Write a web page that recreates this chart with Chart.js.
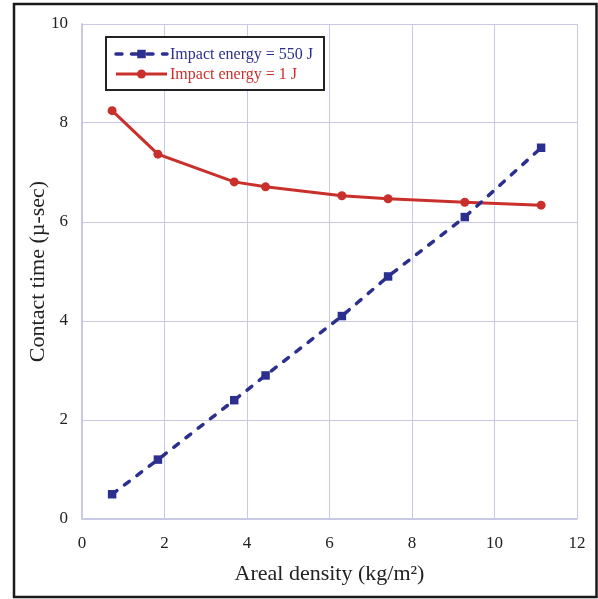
<!DOCTYPE html>
<html>
<head>
<meta charset="utf-8">
<script src="https://cdn.jsdelivr.net/npm/chart.js@4/dist/chart.umd.min.js"></script>
<style>
  body { margin: 0; background: #fff; }
  canvas { display: block; }
</style>
</head>
<body>
<canvas id="contactChart" width="598" height="599"></canvas>
<script>
// ================= DATA =================
const arealDensity = [0.73, 1.84, 3.69, 4.45, 6.30, 7.42, 9.28, 11.13];
const time550J = [0.50, 1.20, 2.40, 2.90, 4.10, 4.90, 6.10, 7.50];
const time1J = [8.25, 7.37, 6.81, 6.71, 6.53, 6.47, 6.40, 6.34];
const seriesLabels = ["Impact energy = 550 J", "Impact energy = 1 J"];
const xTitle = "Areal density (kg/m\u00B2)";
const yTitle = "Contact time (\u00B5-sec)";

const BLUE = "#2b2f8e";
const RED = "#c9302c";
const GRID = "#c9c9e6";
const SERIF = "'Liberation Serif', 'Times New Roman', serif";

const toPoints = ys => arealDensity.map((x, i) => ({ x: x, y: ys[i] }));

// ================= OUTER FRAME =================
const framePlugin = {
    id: "frame",
    afterDraw(chart) {
        const ctx = chart.ctx;
        ctx.save();
        ctx.strokeStyle = "#1a1a1a";
        ctx.lineWidth = 2.5;
        ctx.strokeRect(14, 4, 582.5, 593);
        ctx.restore();
    }
};

// ================= BOXED LEGEND =================
const boxLegend = {
    id: "boxLegend",
    afterDraw(chart) {
        const ctx = chart.ctx;
        const x0 = 106, y0 = 37, w = 218, h = 53;
        ctx.save();
        ctx.fillStyle = "#fff";
        ctx.fillRect(x0, y0, w, h);
        ctx.strokeStyle = "#222";
        ctx.lineWidth = 2;
        ctx.strokeRect(x0, y0, w, h);

        chart.data.datasets.forEach((ds, i) => {
            const y = y0 + 17 + i * 20;
            const xs = x0 + 10, xe = x0 + 61;
            const xm = (xs + xe) / 2;

            // sample line
            ctx.beginPath();
            ctx.strokeStyle = ds.borderColor;
            ctx.lineWidth = ds.borderWidth;
            ctx.lineCap = ds.borderCapStyle || "butt";
            ctx.setLineDash(ds.borderDash || []);
            ctx.moveTo(xs, y);
            ctx.lineTo(xe, y);
            ctx.stroke();
            ctx.setLineDash([]);

            // marker
            ctx.fillStyle = ds.pointBackgroundColor;
            ctx.beginPath();
            if (ds.pointStyle === "rect") {
                const s = ds.pointRadius * Math.SQRT1_2;
                ctx.rect(xm - s, y - s, 2 * s, 2 * s);
            } else {
                ctx.arc(xm, y, ds.pointRadius, 0, Math.PI * 2);
            }
            ctx.fill();

            ctx.fillStyle = ds.borderColor;
            ctx.font = "16px " + SERIF;
            ctx.textBaseline = "middle";
            ctx.textAlign = "left";
            ctx.fillText(ds.label, xe + 3, y + 1);
        });
        ctx.restore();
    }
};

// ================= CHART =================
const ctx = document.getElementById("contactChart");

new Chart(ctx, {
    type: "line",
    data: {
        datasets: [
            {
                label: seriesLabels[0],
                data: toPoints(time550J),
                borderColor: BLUE,
                backgroundColor: BLUE,
                borderWidth: 3.5,
                borderDash: [6, 9.5],
                borderCapStyle: "round",
                pointStyle: "rect",
                pointRadius: 6,
                pointBackgroundColor: BLUE,
                pointBorderColor: BLUE,
                pointBorderWidth: 0,
                tension: 0
            },
            {
                label: seriesLabels[1],
                data: toPoints(time1J),
                borderColor: RED,
                backgroundColor: RED,
                borderWidth: 3,
                pointStyle: "circle",
                pointRadius: 4.5,
                pointBackgroundColor: RED,
                pointBorderColor: RED,
                pointBorderWidth: 0,
                tension: 0
            }
        ]
    },
    options: {
        responsive: false,
        animation: false,
        layout: { padding: { left: 0, right: 21, top: 24, bottom: 0 } },
        plugins: {
            legend: { display: false },
            tooltip: { enabled: false }
        },
        scales: {
            x: {
                type: "linear",
                min: 0,
                max: 12,
                ticks: {
                    stepSize: 2,
                    padding: 14,
                    color: "#222",
                    font: { family: SERIF, size: 17 }
                },
                grid: { color: GRID, lineWidth: 1, drawTicks: false },
                border: { color: GRID, width: 1.5 },
                title: {
                    display: true,
                    text: xTitle,
                    color: "#222",
                    font: { family: SERIF, size: 22 },
                    padding: { top: 0, bottom: 12 }
                },
                afterFit: s => {
                    s.height = 80;
                    s.paddingLeft = 0;
                    s.paddingRight = 0;
                }
            },
            y: {
                min: 0,
                max: 10,
                ticks: {
                    stepSize: 2,
                    padding: 14,
                    color: "#222",
                    font: { family: SERIF, size: 17 }
                },
                grid: { color: GRID, lineWidth: 1, drawTicks: false },
                border: { color: GRID, width: 1.5 },
                title: {
                    display: true,
                    text: yTitle,
                    color: "#222",
                    font: { family: SERIF, size: 22 },
                    padding: { top: 25, bottom: 0 }
                },
                afterFit: s => {
                    s.width = 82;
                    s.paddingTop = 0;
                    s.paddingBottom = 0;
                }
            }
        }
    },
    plugins: [boxLegend, framePlugin]
});
</script>
</body>
</html>
